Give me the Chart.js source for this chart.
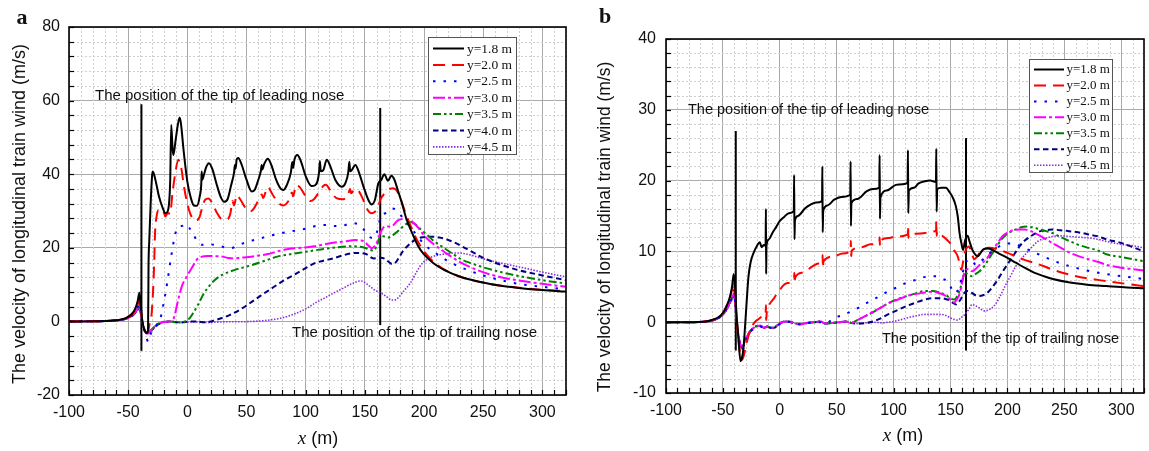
<!DOCTYPE html>
<html>
<head>
<meta charset="utf-8">
<script src="https://cdn.jsdelivr.net/npm/chart.js@4.4.0/dist/chart.umd.min.js"></script>
<style>
  body { margin: 0; background: #fff; width: 1149px; height: 451px; position: relative; overflow: hidden; }
  .panel { position: absolute; top: 0; height: 451px; }
  #wrapA { left: 0; width: 580px; }
  #wrapB { left: 580px; width: 569px; }
</style>
</head>
<body>
<div class="panel" id="wrapA"><canvas id="chartA" width="580" height="451"></canvas></div>
<div class="panel" id="wrapB"><canvas id="chartB" width="569" height="451"></canvas></div>
<script>
// Légende et axes
const seriesLabels = ['y=1.8 m', 'y=2.0 m', 'y=2.5 m', 'y=3.0 m', 'y=3.5 m', 'y=4.0 m', 'y=4.5 m'];
const xTicks = [-100, -50, 0, 50, 100, 150, 200, 250, 300];
const yTicksA = [-20, 0, 20, 40, 60, 80];
const yTicksB = [-10, 0, 10, 20, 30, 40];

// Panel a : [x (m), vitesse (m/s)]
const a18 = [[-100,0],[-75,0.05],[-60,0.3],[-52,0.9],[-47,2],[-44,3.5],[-42,5.5],[-40.5,7.8],[-39.5,5],[-38,0],[-36,-2.5],[-34.5,-3.2],[-33.2,-2.5],[-32.8,15],[-32.2,21.7],[-31,32],[-29.8,39.5],[-29.2,40.7],[-27,38.5],[-24,34],[-21,31],[-18.5,29.4],[-16.5,30],[-14.5,38],[-13.6,53.4],[-12.5,47],[-11.8,45.2],[-10,49],[-8,53.5],[-6.5,55.4],[-5.5,54],[-3,46],[0,38],[3,33.5],[5.5,31.5],[8,31.4],[10.5,34],[11.8,37.5],[12.1,40.7],[12.6,38.5],[14,39.8],[16,42],[18.3,43],[21,41.5],[25,37],[28,34],[31,32.5],[34,33.2],[37,37],[39.5,40.5],[40.2,42.5],[40.8,41.5],[41.7,44],[43,44.4],[46,42.5],[50,38.5],[54.4,35.3],[57,35.8],[60,38.5],[62.2,41],[62.8,42.5],[63.3,41.3],[65,42.8],[68,44.2],[71,42.5],[75,38.5],[79,36],[81.1,35.7],[84,37],[87.5,40.5],[88.7,43.3],[89.4,41.7],[90.5,43.9],[92.9,45.2],[96,43.5],[100,39.5],[105,36.8],[108,37],[111.3,40.5],[112,43.6],[112.8,40.8],[114.9,41.1],[117.8,43.9],[121,42],[125,38.5],[130.5,36.6],[133.5,37.5],[136,40.5],[136.9,43.4],[137.6,40.8],[138.9,41.1],[142,42.5],[145,40.5],[149,36.5],[153,33],[155.8,31.8],[158.5,33],[161.4,37.5],[164,38.5],[166.5,40],[169.5,38.2],[172.5,39.6],[175,38.5],[178,35.5],[181,32.5],[185,28],[190,24],[195,20.5],[200,18.2],[208,15.8],[217,14],[230,12.2],[248,10.7],[265,9.7],[280,9.1],[300,8.5],[320,8.1]];
const a20 = [[-100,0],[-75,0.05],[-60,0.3],[-52,0.8],[-47,1.8],[-44,3],[-42,4.5],[-40.5,6],[-39.5,4],[-38,0],[-36,-2],[-34.5,-3],[-33,-2.5],[-31.5,0],[-30.4,1.3],[-29,8],[-28,16],[-27.3,24],[-26,28.5],[-24.5,30.2],[-22,29.5],[-20.5,30],[-18.5,28.5],[-16.5,29.5],[-14.6,29.2],[-12.5,35],[-10.4,39.8],[-7.6,43.9],[-6,42.8],[-4.8,41.1],[-3,37],[0,32],[3.5,28.5],[7.3,27.4],[10.5,28.5],[13,31.5],[15,33],[17.7,33.4],[21,32.2],[25,29.5],[29,27.8],[33.3,27.7],[36.5,29.5],[38,32.8],[39.5,31.5],[41.7,34.3],[45,33],[50,30.5],[54,30],[57.2,31.2],[61,33.5],[63,34.5],[64,33.5],[67.9,36.5],[72,34.5],[77,32.2],[81.1,31.5],[85,32.5],[88.5,35],[89.3,34],[92,37],[95,36.5],[100,34],[104,32.7],[107,33.2],[111,35],[114.9,36.8],[117,37.1],[121,35.5],[126,33.5],[131.8,33.2],[136,34.5],[137.5,36],[138.5,34.8],[141,35.9],[144,35.7],[148,33.5],[152,30.5],[155.8,29.4],[158.5,29.8],[161.4,31.2],[163,33],[166.8,34.8],[170,35.8],[174,36.2],[177,35.5],[180,33.5],[184,29.8],[190,25],[196,21],[204,17.5],[215,14.5],[232,12],[250,10.5],[265,9.7],[285,9],[300,8.6],[320,8.2]];
const a25 = [[-100,0],[-75,0.05],[-60,0.3],[-52,0.7],[-47,1.5],[-44,2.6],[-42,3.8],[-40.5,5],[-39.5,3],[-38,-0.5],[-36,-3],[-34.5,-4.5],[-33,-5.5],[-31,-3.5],[-29,-2],[-26,-1],[-23,0.5],[-20,5],[-17,10.5],[-13.5,18],[-10,24],[-7,25.8],[-4,26],[-1.5,26.5],[1.5,25.5],[4.5,24],[8,22],[12.3,20.8],[18,21],[24,20.7],[30,20.3],[37,19.9],[42,20.6],[48,21.3],[55,22],[61,22.5],[70,23.3],[80,24],[90,24.6],[100,25.2],[110,26],[118,26.2],[125,25.9],[132,26.1],[140,26.7],[145,26.3],[149,25],[153,23.2],[157.2,22.6],[160,24],[163.6,28.5],[168,29.5],[173,30.7],[176,30.4],[180,29],[185,27],[190,25],[195,23],[200,21],[208,19],[216,17.2],[225,15.6],[235,14.2],[250,12.5],[265,11.2],[280,10.2],[300,9.4],[320,8.7]];
const a30 = [[-100,0],[-75,0.05],[-60,0.3],[-52,0.7],[-47,1.5],[-44,2.5],[-42,3.6],[-40.5,4.8],[-39.5,3],[-38,-0.3],[-36,-2.4],[-34.5,-3.2],[-33,-3.3],[-31,-2.5],[-28,-1.5],[-25,-0.8],[-20,-0.2],[-15,0],[-12.5,0.3],[-11,1.3],[-8,5.5],[-4.8,9.4],[0,12.5],[4.5,14.9],[8,16.8],[12.3,17.6],[17,17.8],[23,17.7],[29.5,17.6],[35,17.2],[39,17.1],[45,17.3],[52,17.5],[60.7,17.9],[68,18.3],[76,19],[84,19.6],[92,19.9],[100,20.1],[107.5,20.4],[115,20.9],[123,21.4],[132,21.7],[142,22.1],[146,22],[149.6,21.7],[153,20.6],[156,19.9],[158.5,20.5],[160.5,21.7],[163,24],[166.8,25.7],[170,25.8],[173,25.9],[177.7,27.4],[182,27.8],[186,27.6],[190,27.1],[195,25.5],[201,23],[208,21],[216.7,19],[230,16.2],[248,13.6],[265,12],[280,11.1],[300,10.2],[320,9.4]];
const a35 = [[-100,0],[-75,0.05],[-60,0.3],[-52,0.7],[-47,1.5],[-44,2.5],[-42,3.4],[-40.5,4.5],[-39.5,2.8],[-38,-0.3],[-36,-2.4],[-34.5,-3.2],[-33,-3.3],[-31,-2.5],[-28,-1.5],[-25,-0.7],[-20,-0.1],[-15,0],[-10,-0.2],[-5,-0.3],[-1,0.2],[2,0.9],[5,2.3],[9,4.5],[14,7.6],[19,9.8],[23,11.2],[29,12.6],[35.7,13.5],[42,14.2],[48,14.7],[54.4,15.3],[62,16.1],[70,17],[76,17.6],[84,18.1],[92,18.5],[100,18.9],[107.5,19.3],[115,19.7],[123,20],[131,20.3],[138.7,20.4],[145,20.3],[151,19.9],[155,19.4],[157.4,19.2],[160,20.5],[163.6,23.3],[167,23],[170,22.8],[174,23.5],[179,24.8],[183,26],[188.6,27],[193,26.3],[198,24.8],[203,23.4],[207,22.2],[212,21],[216.7,20],[225,18.2],[232,16.8],[240,15.8],[248,14.9],[265,13.4],[279,12.4],[300,11.2],[320,10.3]];
const a40 = [[-100,0],[-75,0.05],[-60,0.3],[-52,0.7],[-47,1.4],[-44,2.3],[-42,3.2],[-40.5,4.2],[-39.5,2.5],[-38,-0.3],[-36,-2.4],[-34.5,-3.2],[-33,-3.2],[-31,-2.6],[-28,-1.8],[-25,-0.9],[-20,-0.2],[-15,0],[-10,-0.2],[-5,-0.3],[0,-0.1],[5,0],[10,-0.1],[15,-0.2],[20,0],[23,0.3],[30,1],[35.7,1.7],[45,3.3],[54.4,5.3],[62,7],[70,8.7],[80,10.8],[92,13],[100,14.5],[107.5,15.8],[115,16.5],[123,17.1],[131,17.9],[138.7,18.5],[145,18.6],[151,18.3],[157.4,17.1],[163.6,17.3],[167,17],[170,16.2],[173,15.6],[176,16],[179,17.4],[182,19],[185.5,20.3],[190,21.6],[195,22.6],[200,22.9],[207,23],[213,22.8],[220,22.2],[226,21.4],[232,20.4],[240,19],[248,17.6],[263,15.6],[279,14],[300,12.5],[320,11.2]];
const a45 = [[-100,0],[-75,0.05],[-60,0.3],[-52,0.7],[-47,1.4],[-44,2.2],[-42,3],[-40.5,3.8],[-39.5,2.3],[-38,-0.3],[-36,-2.4],[-34.5,-3.2],[-33,-3.3],[-31,-2.7],[-28,-1.8],[-25,-0.9],[-20,-0.2],[-15,0],[-5,-0.3],[5,-0.1],[15,-0.3],[25,-0.2],[35,-0.1],[45,-0.1],[60.7,0.1],[70,0.4],[79.4,0.9],[86,1.5],[92,2.2],[100,3.4],[107.5,4.9],[115,6.2],[123,7.6],[131,8.9],[138.7,10.2],[146.5,11],[150,10.6],[154,9.6],[158,8.6],[163.6,7.7],[168,6.8],[173,5.8],[176,5.9],[179,6.7],[183,8.3],[188.6,10.5],[193,13],[198,15.6],[203,16.9],[207,17.6],[213,18.1],[220,18.4],[226,18.6],[232,18.5],[240,18],[248,17.2],[263,16],[279,14.9],[300,13.4],[320,12.1]];
// positions des nez (x, vmin, vmax)
const noseLeadA = [-38.8, -8, 59];
const noseTrailA = [163, -1, 58];

// Panel b
const b18 = [[-100,0],[-80,0],[-65,0.1],[-58,0.4],[-54,0.7],[-50,1.3],[-47,2.2],[-44,3.5],[-42,5],[-40.5,6.8],[-39.5,5.5],[-38,1],[-36.5,-2],[-34.5,-5.5],[-33.5,-5.2],[-32,-3.8],[-30.5,-0.5],[-29,3.2],[-27.5,6.5],[-25.6,8.5],[-23,9.8],[-20,10.8],[-17.6,11.3],[-16,10.6],[-14,10.9],[-12.5,10.8],[-12.2,16],[-12,6.8],[-11.7,10.8],[-9.7,11.7],[-6.5,12.6],[-3,13.5],[0,14.3],[4,14.9],[7.9,15.4],[12.3,15.7],[12.6,20.8],[12.9,11.7],[13.3,14.4],[16,15],[22.3,16.1],[27,16.6],[31.8,16.9],[37.1,17.1],[37.4,22],[37.7,12.7],[38.1,15.7],[42,16.5],[47.8,17.3],[54,17.7],[61.9,18],[62.2,22.7],[62.5,13.6],[62.9,16.8],[68,17.4],[76.5,18.5],[82,18.8],[87.4,19],[87.7,23.6],[88,14.6],[88.4,17.6],[94,18.6],[102,19.4],[108,19.5],[112.3,19.7],[112.6,24.3],[112.9,15.4],[113.4,18.6],[118,19],[122,19.6],[127.6,19.9],[132,20],[137.2,19.8],[137.5,24.5],[137.8,15.6],[138.3,18.8],[142,19],[146,19],[149,18.4],[152,17.6],[154.5,16.5],[156.3,15],[158,12.5],[159.5,11.2],[161,10.2],[162.7,11.5],[165,12.2],[166.5,11.5],[169,10.3],[172,9.5],[174,9.3],[176,9.7],[179,10.3],[183,10.4],[187,10.2],[191.5,9.8],[200,9.1],[207.4,8.4],[215,7.7],[223.4,7],[232,6.5],[240,6.1],[255,5.6],[270,5.3],[287,5.1],[305,4.9],[320,4.8]];
const b20 = [[-100,0],[-80,0],[-65,0.1],[-58,0.4],[-54,0.7],[-50,1.3],[-47,2.2],[-44,3.4],[-42,4.6],[-40.5,5.8],[-39.5,4.5],[-38,0.5],[-36,-3],[-34,-5],[-33,-5.3],[-31,-4.3],[-28.5,-2.5],[-25.6,-1],[-22,0],[-19,0.4],[-15,0.8],[-12.5,1.1],[-12.2,2.4],[-12,0.3],[-11.5,1.3],[-9.7,2.3],[-5,3.4],[0,4.6],[6,5.5],[12.5,6.2],[12.8,7],[13.1,5.5],[13.5,6.3],[20,7],[28.7,7.9],[34,8.3],[37.4,8.5],[37.6,9.5],[37.9,7.7],[38.3,8.6],[47.8,9.3],[55,9.7],[62.2,10.1],[62.4,11.5],[62.7,9.3],[63.1,10.1],[72,10.6],[79.7,11],[87.5,11.4],[87.7,12],[88,10.8],[88.4,11.5],[96,11.9],[102,12.1],[112.5,12.4],[112.7,13.6],[113,11.9],[113.4,12.4],[120,12.5],[127.6,12.6],[133,12.8],[137.3,12.9],[137.5,14.3],[137.8,12.2],[138.3,12.8],[143.6,12.1],[147,11.6],[150,11.1],[153,10.2],[156.3,9.3],[158,8.3],[159.5,7.4],[161,8.5],[162.5,9.8],[166,10.7],[168.5,9.8],[170.7,8.9],[173,9.2],[175.5,9.8],[179,10.3],[183.5,10.5],[191.5,10.3],[200,9.8],[207.4,9.3],[215,8.8],[223.4,8.4],[232,7.9],[240,7.4],[255,6.7],[270,6.2],[287,5.8],[305,5.4],[320,5.1]];
const b25 = [[-100,0],[-80,0],[-65,0.1],[-58,0.3],[-54,0.6],[-50,1.1],[-47,1.9],[-44,3],[-42,3.9],[-40.5,4.5],[-39.5,3.5],[-38,0.5],[-36,-2.5],[-34,-3.8],[-33,-4],[-31,-3],[-28.5,-2],[-25,-1.2],[-21,-0.7],[-17,-0.6],[-14,-0.9],[-11,-0.6],[-8,-0.8],[-5,-0.9],[-2,-0.5],[2,-0.1],[6,0],[10,0.1],[14,-0.2],[18,-0.3],[24,-0.1],[30,0],[36,0],[40,-0.2],[47.8,0.6],[55,1],[63.8,1.6],[72,2.3],[79.7,3],[88,3.7],[95.7,4.4],[104,5],[111.7,5.6],[120,6],[127.6,6.4],[133,6.5],[137.2,6.5],[142,6.2],[146.8,5.8],[150,5],[153.2,4.1],[155.5,4.3],[158,5.1],[160.5,6.8],[162.7,8.4],[165,8.7],[167.5,8.9],[170,8.5],[172.3,8.1],[175.5,8.4],[178.7,8.9],[182,9.4],[185,9.8],[190,10.4],[195,10.9],[200,11.1],[205,11.1],[212,10.7],[220,10.1],[230,9.4],[240,8.7],[255,7.9],[270,7.3],[287,6.8],[305,6.4],[320,6.1]];
const b30 = [[-100,0],[-80,0],[-65,0.1],[-58,0.3],[-54,0.6],[-50,1.1],[-47,1.8],[-44,2.8],[-42,3.6],[-40.5,4.2],[-39.5,3.3],[-38,0.5],[-36,-2.3],[-34,-3.5],[-33,-3.7],[-31,-2.8],[-28.5,-1.9],[-25,-1.1],[-21,-0.6],[-17,-0.5],[-14,-0.8],[-11,-0.6],[-8,-0.8],[-5,-0.8],[-2,-0.4],[2,0],[6,0.1],[10,0],[14,-0.2],[18,-0.3],[24,-0.1],[30,0],[36,0.1],[40,-0.2],[46,-0.1],[52,0],[58,0.1],[63,-0.1],[67,0.2],[72,0.6],[79.7,1.3],[88,2],[95.7,2.7],[104,3.2],[111.7,3.7],[120,4],[127.6,4.2],[134,4.3],[140.4,4.1],[145,3.8],[148.4,3.4],[151,3],[153.2,2.8],[155.5,3.2],[158,4],[160,5.5],[162.7,7.2],[166,7.5],[169,7.2],[172,7.5],[175,8],[178,8.4],[182,9],[186,10],[191.5,11.2],[196,12.2],[201,12.7],[205,13],[210.6,13.1],[215,13.1],[220.2,12.9],[225,12.5],[229.8,12.1],[235,11.6],[239.4,11.2],[247,10.5],[255,9.8],[263,9.3],[271,8.9],[280,8.5],[287,8.1],[300,7.7],[310,7.5],[320,7.3]];
const b35 = [[-100,0],[-80,0],[-65,0.1],[-58,0.3],[-54,0.6],[-50,1.1],[-47,1.8],[-44,2.8],[-42,3.5],[-40.5,4.1],[-39.5,3.2],[-38,0.5],[-36,-2.3],[-34,-3.5],[-33,-3.7],[-31,-2.8],[-28.5,-1.9],[-25,-1.1],[-21,-0.6],[-17,-0.5],[-14,-0.8],[-11,-0.6],[-8,-0.8],[-5,-0.8],[-2,-0.4],[2,0],[6,0.1],[10,0],[14,-0.2],[18,-0.3],[24,-0.1],[30,0],[36,0.1],[40,-0.2],[46,-0.1],[52,0],[58,0.1],[63,-0.1],[67,0.2],[72,0.6],[79.7,1.2],[88,2],[95.7,2.7],[104,3.3],[111.7,3.7],[120,4.1],[127.6,4.4],[134,4.4],[140.4,4.2],[145,3.9],[150,3.4],[153.2,3.2],[156,3.7],[159,5],[162.7,7],[166,6.7],[169,6.5],[172,6.8],[175.5,7.2],[180,8],[185,9.3],[190,10.5],[194.7,11.7],[200,12.5],[207.4,13.1],[212,13.4],[217,13.5],[222,13.4],[226.6,13.2],[233,12.9],[239.4,12.6],[247,12],[255.3,11.4],[263,10.9],[271.3,10.5],[280,10.1],[287,9.6],[300,9.2],[310,8.9],[320,8.6]];
const b40 = [[-100,0],[-80,0],[-65,0.1],[-58,0.3],[-54,0.6],[-50,1.1],[-47,1.8],[-44,2.7],[-42,3.4],[-40.5,4],[-39.5,3.1],[-38,0.4],[-36,-2.2],[-34,-3.4],[-33,-3.6],[-31,-2.8],[-28.5,-1.9],[-25,-1.1],[-21,-0.6],[-17,-0.5],[-14,-0.8],[-11,-0.6],[-8,-0.8],[-5,-0.8],[-2,-0.4],[2,0],[6,0.1],[10,0],[14,-0.2],[18,-0.3],[24,-0.1],[30,0],[36,0.1],[40,-0.2],[46,-0.1],[52,0],[58,0.1],[63,-0.1],[70,-0.2],[76,-0.1],[82,0.1],[89.3,0.6],[95,1.1],[102,1.6],[111.7,2.3],[120,2.8],[127.6,3.2],[134,3.4],[140.4,3.4],[145,3.3],[150,3],[152.5,2.7],[154.8,2.5],[157,2.8],[159.5,3.4],[162,4.1],[164.3,4.4],[167,4.3],[169,4.1],[172,3.8],[175.5,3.7],[178.5,3.8],[181.9,4.1],[186,4.8],[191.5,6],[196,7.2],[201,8.4],[206,9.6],[210.6,10.7],[215,11.5],[220.2,12.1],[225,12.6],[229.8,12.9],[235,13],[239.4,13.1],[246,13],[252,12.9],[262,12.7],[271.3,12.4],[280,12.1],[287.2,11.7],[300,11.2],[310,10.6],[320,10]];
const b45 = [[-100,0],[-80,0],[-65,0.1],[-58,0.3],[-54,0.5],[-50,1],[-47,1.6],[-44,2.5],[-42,3.2],[-40.5,3.7],[-39.5,2.9],[-38,0.4],[-36,-2.2],[-34,-3.4],[-33,-3.6],[-31,-2.8],[-28.5,-1.9],[-25,-1.1],[-21,-0.6],[-17,-0.5],[-14,-0.8],[-11,-0.6],[-8,-0.8],[-5,-0.8],[-2,-0.4],[2,0],[6,0.1],[10,0],[14,-0.2],[18,-0.3],[24,-0.1],[30,0],[36,0.1],[40,-0.2],[46,-0.1],[52,0],[58,0.1],[63,-0.1],[70,-0.2],[76,-0.1],[82,0],[90,-0.1],[95,0],[100,0.1],[105,0.3],[111.7,0.6],[120,0.9],[127.6,1.1],[134,1.1],[140.4,1.1],[145,1],[150,0.6],[153,0.4],[156.3,0.3],[159,0.6],[162.7,1.1],[166,1.8],[169,2.5],[172,2.3],[175.5,2],[178,1.7],[180.3,1.6],[184,1.8],[188.3,2.3],[193,3.5],[197.9,5.1],[203,6.6],[207.4,7.9],[212,8.9],[217,9.8],[222,10.7],[226.6,11.4],[232,11.8],[239.4,12.1],[247,12.2],[255.3,12.1],[263,12],[271.3,11.9],[280,11.7],[287.2,11.4],[300,11],[310,10.8],[320,10.5]];
const noseLeadB = [-38.7, -4, 27];
const noseTrailB = [163.6, -4, 26];

// Styles des courbes
const seriesColors = ['#000000', '#ff0000', '#0000ff', '#ff00ff', '#008000', '#000080', '#8a2be2'];
const seriesDash = [[], [12, 7], [2.5, 8], [12, 3, 3, 3], [8, 3, 2.5, 3, 2.5, 3], [5.5, 3.5], [1.5, 1.5]];
const seriesWidth = [2, 2, 2, 2, 2, 2, 1.6];

const FONT_SANS = '"Liberation Sans", Arial, sans-serif';
const FONT_SERIF = '"Liberation Serif", "Times New Roman", serif';

// Dessin de la grille secondaire, des graduations internes, du cadre, de la légende et des textes
const panelDecor = {
    id: 'panelDecor',
    beforeDatasetsDraw(chart, args, o) {
        const { ctx, chartArea: ca, scales: { x, y } } = chart;
        ctx.save();
        ctx.strokeStyle = '#cfcfcf';
        ctx.lineWidth = 1;
        ctx.setLineDash([2, 2]);
        for (let v = -100; v <= 320; v += 10) {
            if (v % 50 === 0) continue;
            const px = Math.round(x.getPixelForValue(v)) + 0.5;
            ctx.beginPath(); ctx.moveTo(px, ca.top); ctx.lineTo(px, ca.bottom); ctx.stroke();
        }
        for (let v = o.yMin; v <= o.yMax; v += o.yMinor) {
            if (v % o.yMajor === 0) continue;
            const py = Math.round(y.getPixelForValue(v)) + 0.5;
            ctx.beginPath(); ctx.moveTo(ca.left, py); ctx.lineTo(ca.right, py); ctx.stroke();
        }
        ctx.restore();
    },
    afterDatasetsDraw(chart, args, o) {
        const { ctx, chartArea: ca, scales: { x, y } } = chart;
        ctx.save();
        // graduations vers l'intérieur
        ctx.strokeStyle = '#000';
        ctx.lineWidth = 1.2;
        for (let v = -100; v <= 320; v += 10) {
            const px = Math.round(x.getPixelForValue(v)) + 0.5;
            ctx.beginPath(); ctx.moveTo(px, ca.bottom); ctx.lineTo(px, ca.bottom - 5); ctx.stroke();
        }
        for (let v = o.yMin; v <= o.yMax; v += o.yMinor) {
            const py = Math.round(y.getPixelForValue(v)) + 0.5;
            ctx.beginPath(); ctx.moveTo(ca.left, py); ctx.lineTo(ca.left + 5, py); ctx.stroke();
        }
        // cadre
        ctx.lineWidth = 1.6;
        ctx.strokeRect(ca.left, ca.top, ca.right - ca.left, ca.bottom - ca.top);

        // textes d'annotation
        ctx.fillStyle = '#111';
        ctx.textBaseline = 'middle';
        ctx.textAlign = 'left';
        ctx.font = o.noteSize + 'px ' + FONT_SANS;
        ctx.fillText('The position of the tip of leading nose', o.leadText[0], o.leadText[1]);
        ctx.fillText('The position of the tip of trailing nose', o.trailText[0], o.trailText[1]);

        // légende
        const lg = o.legend;
        ctx.fillStyle = '#fff';
        ctx.fillRect(lg.x0, lg.y0, lg.x1 - lg.x0, lg.y1 - lg.y0);
        ctx.strokeStyle = '#555';
        ctx.lineWidth = 1;
        ctx.strokeRect(lg.x0 + 0.5, lg.y0 + 0.5, lg.x1 - lg.x0, lg.y1 - lg.y0);
        ctx.font = lg.font + 'px ' + FONT_SERIF;
        seriesLabels.forEach((label, i) => {
            const ry = lg.row0 + i * lg.pitch;
            ctx.strokeStyle = seriesColors[i];
            ctx.lineWidth = seriesWidth[i];
            ctx.setLineDash(seriesDash[i]);
            ctx.beginPath(); ctx.moveTo(lg.s0, ry); ctx.lineTo(lg.s1, ry); ctx.stroke();
            ctx.setLineDash([]);
            ctx.fillStyle = '#111';
            ctx.fillText(label, lg.tx, ry + 0.5);
        });

        // titres des axes
        ctx.fillStyle = '#111';
        ctx.textAlign = 'center';
        ctx.font = o.yTitle[2] + 'px ' + FONT_SANS;
        ctx.save();
        ctx.translate(o.yTitle[0], o.yTitle[1]);
        ctx.rotate(-Math.PI / 2);
        ctx.fillText('The velocity of longitudinal train wind (m/s)', 0, 0);
        ctx.restore();

        ctx.textAlign = 'left';
        const fx = 'italic 19px ' + FONT_SERIF, fm = '18px ' + FONT_SANS;
        ctx.font = fx; const wx = ctx.measureText('x').width;
        ctx.font = fm; const wm = ctx.measureText(' (m)').width;
        let sx = o.xTitle[0] - (wx + wm) / 2;
        ctx.font = fx; ctx.fillText('x', sx, o.xTitle[1]);
        ctx.font = fm; ctx.fillText(' (m)', sx + wx, o.xTitle[1]);

        // lettre du panneau
        ctx.font = 'bold 22px ' + FONT_SERIF;
        ctx.textAlign = 'center';
        ctx.fillText(o.letter[0], o.letter[1], o.letter[2]);
        ctx.restore();
    }
};

function makeDatasets(series, noses) {
    const ds = series.map((pts, i) => ({
        label: seriesLabels[i],
        data: pts.map(([x, y]) => ({ x, y })),
        borderColor: seriesColors[i],
        borderDash: seriesDash[i],
        borderWidth: seriesWidth[i],
        pointRadius: 0,
        fill: false,
        cubicInterpolationMode: 'monotone'
    }));
    noses.forEach(n => ds.push({
        label: 'nose',
        data: [{ x: n[0], y: n[1] }, { x: n[0], y: n[2] }],
        borderColor: '#000',
        borderWidth: 2,
        pointRadius: 0,
        tension: 0
    }));
    return ds;
}

function createPanel(canvasId, series, noses, yTicks, p) {
    const tickFont = { family: FONT_SANS, size: 16 };
    return new Chart(document.getElementById(canvasId), {
        type: 'line',
        data: { datasets: makeDatasets(series, noses) },
        options: {
            responsive: false,
            animation: false,
            events: [],
            layout: { padding: { left: 0, top: p.top, right: p.right, bottom: 0 } },
            plugins: {
                legend: { display: false },
                tooltip: { enabled: false },
                panelDecor: p.decor
            },
            scales: {
                x: {
                    type: 'linear',
                    min: -100,
                    max: 320,
                    afterBuildTicks: s => { s.ticks = xTicks.map(v => ({ value: v })); },
                    afterFit: s => { s.height = p.xHeight; },
                    grid: { color: '#a9a9a9', lineWidth: 1, drawTicks: false },
                    border: { display: false },
                    ticks: { font: tickFont, color: '#111', padding: 8, maxRotation: 0 }
                },
                y: {
                    type: 'linear',
                    min: yTicks[0],
                    max: yTicks[yTicks.length - 1],
                    afterBuildTicks: s => { s.ticks = yTicks.map(v => ({ value: v })); },
                    afterFit: s => { s.width = p.yWidth; },
                    grid: { color: '#a9a9a9', lineWidth: 1, drawTicks: false },
                    border: { display: false },
                    ticks: { font: tickFont, color: '#111', padding: p.yPad }
                }
            }
        },
        plugins: [panelDecor]
    });
}

let chartA, chartB;

document.addEventListener('DOMContentLoaded', function() {
    chartA = createPanel('chartA', [a18, a20, a25, a30, a35, a40, a45], [noseLeadA, noseTrailA], yTicksA, {
        top: 27, right: 14, xHeight: 56, yWidth: 69, yPad: 9,
        decor: {
            yMin: -20, yMax: 80, yMinor: 4, yMajor: 20,
            noteSize: 15, leadText: [95, 96], trailText: [292, 333],
            legend: { x0: 428, y0: 37, x1: 516, y1: 154, s0: 433, s1: 464, tx: 467, row0: 48.5, pitch: 16.4, font: 13.5 },
            yTitle: [20.5, 214, 18], xTitle: [318, 439], letter: ['a', 22, 18]
        }
    });
    chartB = createPanel('chartB', [b18, b20, b25, b30, b35, b40, b45], [noseLeadB, noseTrailB], yTicksB, {
        top: 39, right: 5, xHeight: 58, yWidth: 86, yPad: 10,
        decor: {
            yMin: -10, yMax: 40, yMinor: 2, yMajor: 10,
            noteSize: 14.5, leadText: [108, 110], trailText: [302, 339],
            legend: { x0: 449, y0: 59, x1: 532, y1: 172, s0: 454, s1: 484, tx: 486.5, row0: 69.5, pitch: 15.95, font: 13 },
            yTitle: [25, 227, 17.5], xTitle: [323, 436], letter: ['b', 25, 17]
        }
    });
});
</script>
</body>
</html>
